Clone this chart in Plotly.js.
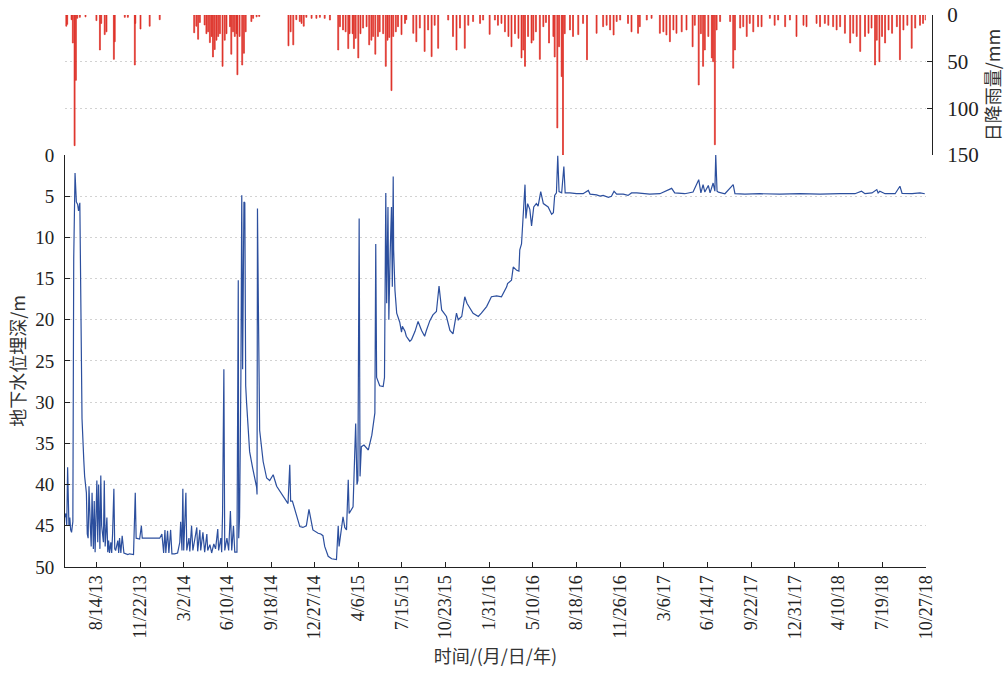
<!DOCTYPE html>
<html>
<head>
<meta charset="utf-8">
<script src="https://cdn.plot.ly/plotly-3.0.1.min.js"></script>
<style>html,body{margin:0;padding:0;background:#fff;}#chart{width:1007px;height:677px;}</style>
</head>
<body>
<div id="chart"></div>
<script>
// Time values are days counted from 2013-08-14 (first labelled tick).
const BASE_DATE = Date.UTC(2013, 7, 14);

// Groundwater depth (m) series
const gwDay = [
  -73,-70,-68,-66,-63,-61,-59,-57,-54,-52,
  -49,-46,-43,-41,-38,-37,-35,-33,-29,-27,
  -23,-21,-19,-17,-14,-12,-10,-7,-5,-3,
  1,3,5,8,10,12,16,18,20,24,
  26,28,30,33,35,37,40,42,44,49,
  51,53,56,59,63,67,72,76,81,85,
  89,91,99,103,105,122,134,145,150,152,
  154,157,159,163,166,170,173,179,186,191,
  193,196,198,200,205,207,212,214,218,221,
  225,230,232,237,239,244,248,253,255,260,
  264,269,273,278,280,285,287,289,292,294,
  299,303,307,310,314,317,322,325,326,328,
  331,333,335,338,340,342,344,347,351,358,
  367,368,369,371,374,382,390,397,405,413,
  420,428,434,439,443,445,449,458,466,473,
  481,487,493,496,508,514,519,523,531,539,
  550,554,556,565,569,573,577,579,588,594,
  597,599,602,604,607,613,623,631,638,640,
  642,649,657,660,663,665,668,670,673,676,
  678,680,681,684,688,691,695,699,701,707,
  710,718,722,730,737,745,752,756,764,771,
  779,785,791,802,810,817,825,829,837,844,
  849,863,875,882,894,905,917,928,940,942,
  951,955,963,968,970,974,976,978,982,984,
  988,993,997,1002,1008,1012,1018,1024,1035,1043,
  1047,1050,1054,1057,1060,1066,1071,1074,1085,1100,
  1115,1127,1131,1146,1154,1161,1173,1180,1186,1192,
  1207,1218,1226,1238,1253,1268,1291,1318,1325,1348,
  1367,1380,1385,1390,1394,1402,1406,1413,1417,1419,
  1422,1425,1440,1459,1463,1486,1520,1566,1612,1658,
  1704,1738,1753,1761,1777,1788,1791,1795,1807,1830,
  1841,1846,1869,1887,1898
];
const gwDepth = [
  44.0,43.5,45.0,37.9,45.0,44.0,45.5,45.8,44.5,12.5,
  2.2,5.7,6.0,6.8,5.8,13.6,24,32,37,39,
  41,46,46.5,40.2,45,47.5,41,47.8,42,48.2,
  39.5,47,40,47.8,38.9,45,47,39.5,47.5,44,
  48.2,46.8,48.3,47,48.3,46,40.5,47.8,48,46.8,
  48.3,46.5,48.3,46.2,48.3,48.4,48.5,48.4,48.5,48.5,
  41,46.5,46.6,45,46.5,46.5,46.5,46.5,46,46.8,
  48.3,45.5,48.3,45.6,48.3,45.5,48.4,48.4,48.3,47,
  44.5,48,40.5,48,41,48,46.5,48.1,45,48,
  46.8,45.2,48.1,45.5,48,45.8,48.2,46,48,47.3,
  48.3,47.2,47.8,45.4,48,46.5,48.2,43.5,26,48,
  46.5,48,43.2,48,45,48.2,48.2,15.2,46.5,43.9,
  27,4.9,26,5.7,5.8,28,30,33,36,38,
  40.3,41.2,6.5,18,33.4,37.2,39.2,39.5,38.8,40.2,
  40.8,41.5,41.9,42.3,37.6,42,42,43.5,45.1,45.2,
  45,43,44.5,45.5,45.9,46,46.2,47.5,48.7,49,
  49.1,45,47.5,43.9,45.2,45.5,39.4,43.5,42.7,32.6,
  40,39.5,7.7,39,35.4,35.2,35.8,34,31.3,10.8,
  27,28,28.1,27,4.6,18,6.3,20,12,6.3,
  16,2.6,11.5,16.4,19.2,19.6,20.3,21.5,20.8,21.4,
  22.0,22.6,22.4,21.4,20.2,21.3,22.0,21.3,20.1,19.4,
  19.0,15.9,18.8,19.6,21.3,21.7,19.2,20.0,19.6,17.2,
  18.0,19.2,19.6,19.2,18.4,17.2,17.1,17.2,16.0,15.6,
  15.2,13.6,14.0,14.1,11.5,10.8,8.7,6.3,3.6,7.7,
  5.9,6.6,8.6,6.3,5.9,6.2,4.45,5.9,6.3,7.2,
  7.0,4.9,4.6,0.1,4.45,4.6,1.4,4.6,4.6,4.7,
  4.7,4.3,4.75,4.85,5.0,4.9,5.15,5.0,4.4,4.75,
  4.75,4.9,4.6,4.6,4.65,4.75,4.7,4.05,4.6,4.7,
  4.5,3.0,4.6,3.6,4.5,3.7,4.6,3.4,4.4,0.0,
  4.4,4.5,4.7,3.6,4.7,4.75,4.7,4.75,4.7,4.75,
  4.7,4.7,4.4,4.7,4.6,4.2,4.6,4.4,4.7,4.7,
  3.8,4.65,4.7,4.6,4.7
];

// Daily rainfall (mm) series
const rainDay = [
  -69,-67,-57,-54,-50,-47,-44,-38,-25,0,
  8,11,19,23,40,42,65,72,88,89,
  101,122,145,224,229,233,237,248,252,256,
  260,264,267,271,275,279,283,289,294,298,
  306,309,313,317,321,323,328,334,338,342,
  355,359,367,373,440,445,451,458,466,470,
  475,481,493,504,512,523,535,554,558,565,
  571,577,580,587,590,594,600,605,611,619,
  625,630,634,639,645,649,657,663,667,671,
  676,680,686,691,699,707,710,726,733,741,
  752,760,768,775,783,806,817,825,833,844,
  852,863,879,886,901,913,920,928,936,944,
  951,959,967,974,978,982,989,997,1001,1007,
  1016,1024,1030,1037,1047,1050,1056,1060,1066,1069,
  1073,1085,1092,1104,1115,1124,1146,1161,1169,1177,
  1185,1192,1200,1218,1226,1241,1245,1261,1272,1291,
  1299,1306,1314,1322,1329,1341,1352,1366,1371,1380,
  1385,1390,1394,1402,1410,1413,1417,1421,1429,1452,
  1459,1463,1475,1482,1490,1497,1505,1516,1524,1543,
  1554,1562,1578,1589,1604,1620,1627,1650,1658,1669,
  1677,1688,1696,1704,1715,1727,1734,1742,1750,1761,
  1769,1776,1784,1788,1794,1800,1807,1815,1823,1834,
  1841,1849,1858,1868,1876,1887,1894,1900
];
const rainMm = [
  12,10,5,30,140,70,3.5,2.5,2,6,
  37.5,9,21,18,47.5,28.6,2.5,2.5,53.6,9,
  15,12,5,19,12,26,8,10.7,20,18,
  29.6,23,45,37,27,23,20,55,27,20,
  12.5,42,18,23,20,64,23,53.6,41,18,
  7,3.6,2,1.5,33,18,32,5,7,9,
  12,2.5,3.6,3.6,2.5,3.6,5.4,37.5,12.5,16,
  18,36,20,20,36,25,46,20,14,12.5,
  32,27,23,42,23,18,20,55,27,24,
  81,23,18,12.5,21,9,5,19.6,28.6,14,
  39,16,44.6,11,35.7,5.4,23,37.5,14,35.7,
  11,7,9,5.4,20.7,5.4,11,9,18,23,
  34,20,25,46,37.5,55,23,30,27,18,
  47.5,12.5,8,30,23,45,121,34,66,150,
  20,16,23,21,9,48,19.6,12.5,11,16,
  21.4,7,5.4,9,18,19.6,12.5,5.4,3.6,19.6,
  18,21.4,28.6,16,19.6,18,16,34,11,75,
  20,55,37.5,23,46,50,139,16,7,7,
  57,37.5,14,12.5,23,9,18,12.5,12.5,3.6,
  11,5.4,12.5,5.4,23,11,12.5,9,12.5,9,
  11,12.5,16,12.5,19.6,30,19.6,23,39,23,
  19.6,14,53.6,27,50,23,30,16,19.6,12.5,
  48,16,11,35.7,14,11,9,5.4
];

// X tick labels (every 100 days)
const tickDay = [0,100,200,300,400,500,600,700,800,900,1000,1100,1200,1300,1400,1500,1600,1700,1800,1900];
const tickText = ['8/14/13','11/22/13','3/2/14','6/10/14','9/18/14','12/27/14','4/6/15','7/15/15','10/23/15','1/31/16',
                  '5/10/16','8/18/16','11/26/16','3/6/17','6/14/17','9/22/17','12/31/17','4/10/18','7/19/18','10/27/18'];
const gwTicks = [0,5,10,15,20,25,30,35,40,45,50];
const rainTicks = [0,50,100,150];

const toDate = d => new Date(BASE_DATE + d * 864e5).toISOString().slice(0, 10);

const serif = 'Times New Roman, Liberation Serif, DejaVu Serif, serif';
const cjk = 'Noto Sans CJK SC';
const gridCol = '#d2d2d2';

const traces = [
  {
    type: 'bar',
    x: rainDay.map(toDate),
    y: rainMm,
    yaxis: 'y2',
    width: 2.2 * 864e5,
    marker: {color: '#de2f27', line: {color: '#de2f27', width: 0.7}},
    hoverinfo: 'x+y'
  },
  {
    type: 'scatter',
    mode: 'lines',
    x: gwDay.map(toDate),
    y: gwDepth,
    yaxis: 'y',
    line: {color: '#2c4f9e', width: 1.2},
    hoverinfo: 'x+y'
  }
];

const layout = {
  width: 1007,
  height: 677,
  margin: {l: 65, r: 75, t: 15, b: 110},
  paper_bgcolor: '#ffffff',
  plot_bgcolor: '#ffffff',
  showlegend: false,
  bargap: 0,
  font: {family: serif, size: 18, color: '#222'},
  xaxis: {
    type: 'date',
    domain: [0, 0.9927],
    range: ['2013-06-03', '2018-10-27'],
    tickvals: tickDay.map(toDate),
    ticktext: tickText,
    tickangle: -90,
    ticks: 'inside',
    ticklen: 5,
    tickcolor: '#222',
    showline: true,
    linecolor: '#222',
    linewidth: 1,
    showgrid: false,
    zeroline: false,
    tickfont: {family: serif, size: 18, color: '#222'},
    title: {text: '时间/(月/日/年)', font: {family: cjk, size: 18, color: '#333'}, standoff: 12}
  },
  yaxis: {
    domain: [0, 0.7464],
    range: [50, 0],
    tickvals: gwTicks,
    ticks: 'inside',
    ticklen: 5,
    tickcolor: '#222',
    showline: true,
    linecolor: '#222',
    linewidth: 1,
    showgrid: true,
    gridcolor: gridCol,
    griddash: '2px,3px',
    gridwidth: 1,
    zeroline: false,
    ticklabelstandoff: 6,
    tickfont: {family: serif, size: 19, color: '#222'},
    title: {text: '地下水位埋深/m', font: {family: cjk, size: 18, color: '#333'}, standoff: 4}
  },
  yaxis2: {
    domain: [0.7464, 1],
    range: [150, 0],
    side: 'right',
    anchor: 'free',
    position: 1,
    tickvals: rainTicks,
    ticks: 'inside',
    ticklen: 5,
    tickcolor: '#222',
    showline: true,
    linecolor: '#222',
    linewidth: 1,
    showgrid: true,
    gridcolor: gridCol,
    griddash: '2px,3px',
    gridwidth: 1,
    zeroline: false,
    ticklabelstandoff: 10,
    tickfont: {family: serif, size: 21, color: '#222'},
    title: {text: '日降雨量/mm', font: {family: cjk, size: 18, color: '#333'}, standoff: 8}
  }
};

Plotly.newPlot('chart', traces, layout, {displayModeBar: false, staticPlot: true});
</script>
</body>
</html>
